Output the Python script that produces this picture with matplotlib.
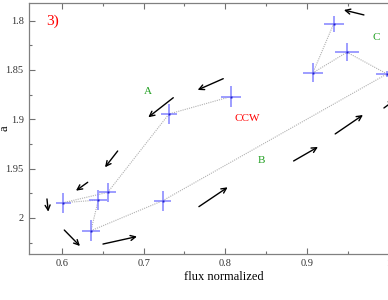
import matplotlib.pyplot as plt
from matplotlib.ticker import MultipleLocator, FuncFormatter

# data points in time order (flux, a) with errors
flux = [0.8066, 0.731, 0.656, 0.6016, 0.6444, 0.6355, 0.7233, 0.998, 0.949, 0.9073, 0.9327]
a_val = [1.877, 1.8946, 1.974, 1.9845, 1.9818, 2.0129, 1.9825, 1.854, 1.832, 1.8529, 1.8032]
flux_err = [0.0122, 0.0102, 0.0102, 0.0092, 0.0108, 0.011, 0.0102, 0.013, 0.0147, 0.0122, 0.0122]
a_err = [0.011, 0.0101, 0.0095, 0.0102, 0.0098, 0.0105, 0.0101, 0.003, 0.0093, 0.0096, 0.008]

# arrows: (start x, start y, end x, end y)
arrows = [
    (0.9698, 1.7942, 0.9453, 1.7892),
    (0.7975, 1.8588, 0.7662, 1.8702),
    (0.7363, 1.8781, 0.7057, 1.8979),
    (0.6682, 1.9321, 0.6527, 1.9486),
    (0.6315, 1.9638, 0.6171, 1.9723),
    (0.5816, 1.9807, 0.5832, 1.9936),
    (0.6028, 2.0122, 0.6220, 2.0284),
    (0.6502, 2.0264, 0.6918, 2.0188),
    (0.7677, 1.9885, 0.8029, 1.9689),
    (0.8837, 1.9422, 0.9135, 1.9280),
    (0.9346, 1.9148, 0.9686, 1.8956),
    (0.9943, 1.8885, 1.0078, 1.8804),
]

# labels: (text, x, y, color, size)
labels = [
    ("3)", 0.589, 1.8003, "#ff0000", 11),
    ("A", 0.7057, 1.872, "#22a022", 8),
    ("CCW", 0.8265, 1.8996, "#ff0000", 8),
    ("B", 0.8443, 1.9417, "#22a022", 8),
    ("C", 0.9845, 1.8172, "#22a022", 8),
]

plt.rcParams['font.family'] = ['Liberation Serif', 'DejaVu Serif']

fig = plt.figure(figsize=(3.88, 3.0), dpi=100)
ax = fig.add_axes([0.0735, 0.1533, 1.009, 0.8367])

ax.plot(flux, a_val, linestyle=(0, (1, 1)), color='#b0b0b0', lw=0.8, zorder=1)
ax.errorbar(flux, a_val, xerr=flux_err, yerr=a_err, fmt='none',
            ecolor='#8c8cff', elinewidth=1.2, capsize=0, zorder=2)
ax.plot(flux, a_val, 's', ms=1.5, color='#2020d0', mec='none', zorder=3)

for x0, y0, x1, y1 in arrows:
    ax.annotate('', xy=(x1, y1), xytext=(x0, y0),
                arrowprops=dict(arrowstyle='->', color='black', lw=1.0,
                                shrinkA=0, shrinkB=0, mutation_scale=9))

for txt, x, y, c, s in labels:
    ax.text(x, y, txt, color=c, fontsize=s, ha='center', va='center')

ax.set_xlim(0.559, 1.0385)
ax.set_ylim(2.0365, 1.7821)

ax.xaxis.set_major_locator(MultipleLocator(0.1))
ax.xaxis.set_minor_locator(MultipleLocator(0.05))
ax.yaxis.set_major_locator(MultipleLocator(0.05))
ax.yaxis.set_minor_locator(MultipleLocator(0.025))
fmt = FuncFormatter(lambda v, p: '%g' % round(v, 3))
ax.xaxis.set_major_formatter(fmt)
ax.yaxis.set_major_formatter(fmt)

ax.tick_params(which='both', direction='in', top=True, right=True,
               colors='#707070', labelcolor='#333333', labelsize=7.5, width=0.8)
ax.tick_params(which='major', length=4)
ax.tick_params(which='minor', length=2)
for sp in ax.spines.values():
    sp.set_color('#808080')
    sp.set_linewidth(0.9)

ax.set_xlabel('flux normalized', fontsize=9, labelpad=2)
ax.set_ylabel('a', fontsize=9)
ax.yaxis.set_label_coords(-0.045, 0.5)

fig.savefig('out.png', dpi=100)
